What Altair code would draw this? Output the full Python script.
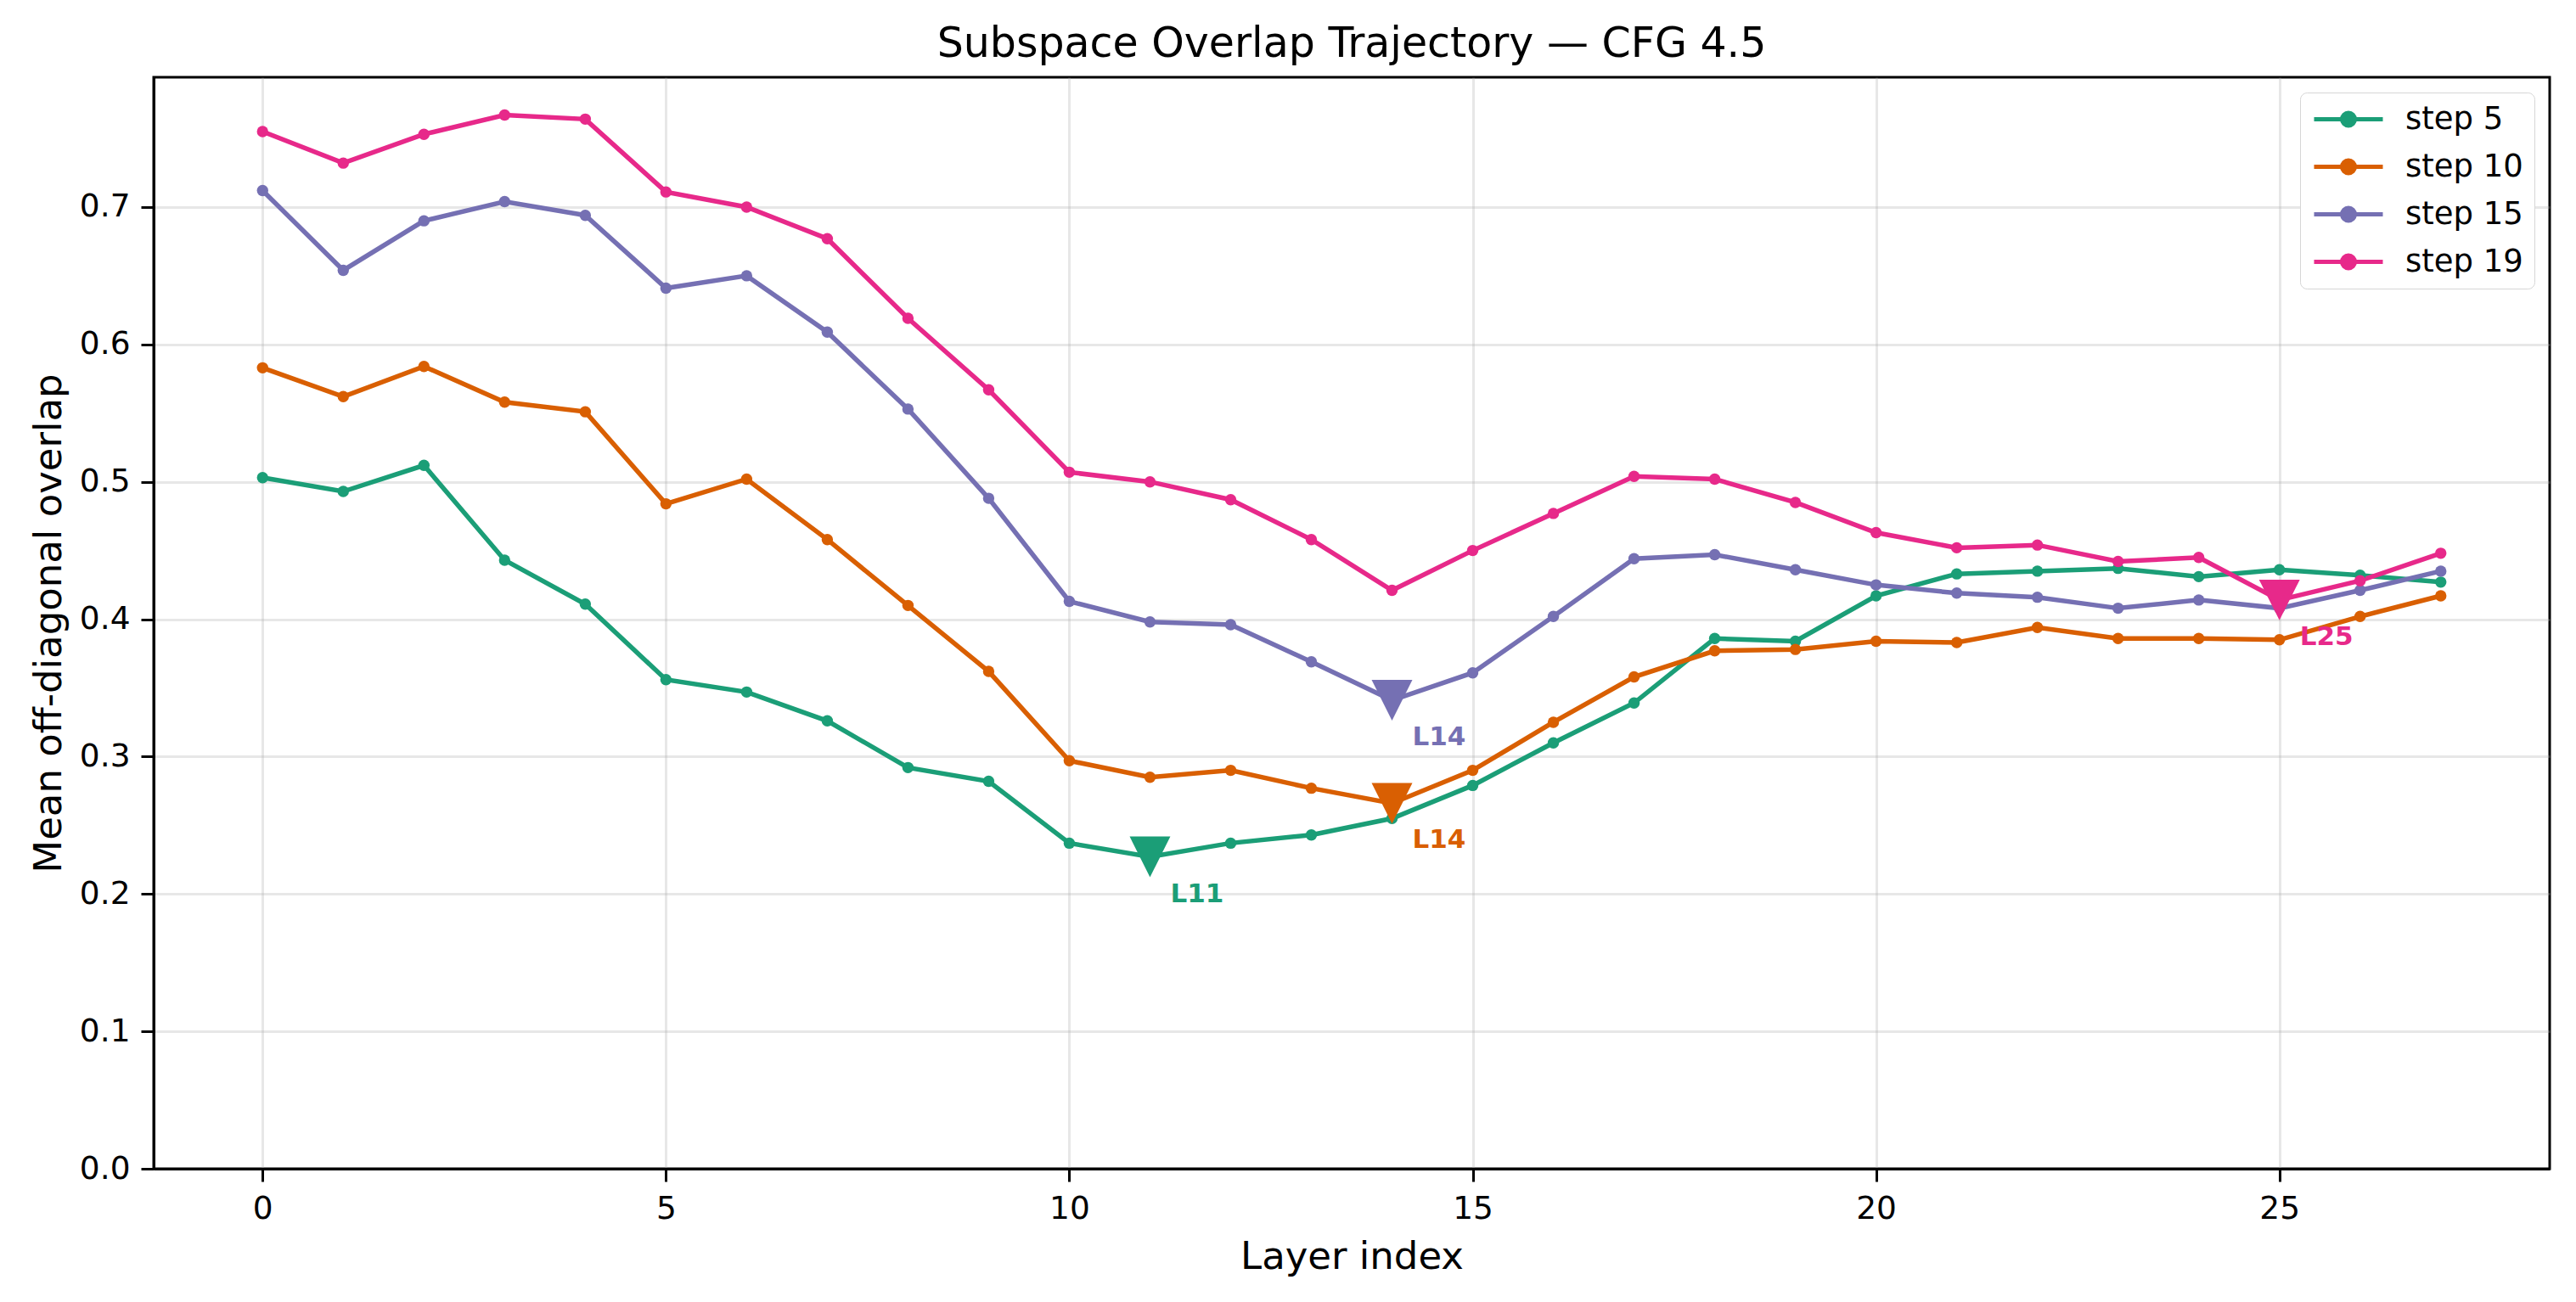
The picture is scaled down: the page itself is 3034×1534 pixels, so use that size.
import altair as alt
import pandas as pd

# ---------------- data ----------------
layers = list(range(28))
series_names = ["step 5", "step 10", "step 15", "step 19"]
series_colors = ["#1b9e77", "#d95f02", "#7570b3", "#e7298a"]

step5 = [0.503, 0.493, 0.512, 0.443, 0.411, 0.356, 0.347, 0.326, 0.292, 0.282,
         0.237, 0.227, 0.237, 0.243, 0.255, 0.279, 0.310, 0.339, 0.386, 0.384,
         0.417, 0.433, 0.435, 0.437, 0.431, 0.436, 0.432, 0.427]
step10 = [0.583, 0.562, 0.584, 0.558, 0.551, 0.484, 0.502, 0.458, 0.410, 0.362,
          0.297, 0.285, 0.290, 0.277, 0.266, 0.290, 0.325, 0.358, 0.377, 0.378,
          0.384, 0.383, 0.394, 0.386, 0.386, 0.385, 0.402, 0.417]
step15 = [0.712, 0.654, 0.690, 0.704, 0.694, 0.641, 0.650, 0.609, 0.553, 0.488,
          0.413, 0.398, 0.396, 0.369, 0.341, 0.361, 0.402, 0.444, 0.447, 0.436,
          0.425, 0.419, 0.416, 0.408, 0.414, 0.408, 0.421, 0.435]
step19 = [0.755, 0.732, 0.753, 0.767, 0.764, 0.711, 0.700, 0.677, 0.619, 0.567,
          0.507, 0.500, 0.487, 0.458, 0.421, 0.450, 0.477, 0.504, 0.502, 0.485,
          0.463, 0.452, 0.454, 0.442, 0.445, 0.414, 0.428, 0.448]

x_ticks = [0, 5, 10, 15, 20, 25]
y_ticks = [0.0, 0.1, 0.2, 0.3, 0.4, 0.5, 0.6, 0.7]

title_text = "Subspace Overlap Trajectory \u2014 CFG 4.5"
x_title = "Layer index"
y_title = "Mean off-diagonal overlap"

# ---------------- tables ----------------
rows = []
for name, vals in zip(series_names, [step5, step10, step15, step19]):
    for l, v in zip(layers, vals):
        rows.append({"series": name, "layer": l, "overlap": v})
df = pd.DataFrame(rows)

mins = df.loc[df.groupby("series", sort=False)["overlap"].idxmin()].copy()
mins["label"] = "L" + mins["layer"].astype(str)

FONT = "DejaVu Sans"

color_scale = alt.Scale(domain=series_names, range=series_colors)
legend = alt.Legend(
    title=None,
    orient="top-right",
    offset=18,
    padding=13,
    rowPadding=18,
    labelFontSize=37,
    labelFont=FONT,
    labelColor="black",
    labelOffset=74,
    symbolType="M-1,0L4.4,0M2.2,0A0.5,0.5,0,1,1,1.2,0A0.5,0.5,0,1,1,2.2,0Z",
    symbolSize=900,
    symbolStrokeWidth=5,
    symbolOpacity=1,
    strokeColor="#d6d6d6",
    fillColor="white",
    cornerRadius=8,
)

x_enc = alt.X(
    "layer:Q",
    scale=alt.Scale(domain=[-1.35, 28.35], nice=False, zero=False),
    axis=alt.Axis(values=x_ticks, format="d", title=x_title, titlePadding=16),
)
y_enc = alt.Y(
    "overlap:Q",
    scale=alt.Scale(domain=[0, 0.7945], nice=False, zero=False),
    axis=alt.Axis(values=y_ticks, format=".1f", title=y_title, titlePadding=13),
)

base = alt.Chart(df)

lines = base.mark_line(strokeWidth=5.5, opacity=1).encode(
    x=x_enc, y=y_enc,
    color=alt.Color("series:N", scale=color_scale, legend=legend, sort=series_names),
)

dots = base.mark_point(filled=True, size=180, opacity=1).encode(
    x="layer:Q", y="overlap:Q",
    color=alt.Color("series:N", scale=color_scale, legend=legend, sort=series_names),
)

tri = alt.Chart(mins).mark_point(
    shape="M-1,-1L1,-1L0,1Z", filled=True, size=2300, opacity=1
).encode(
    x="layer:Q", y="overlap:Q",
    color=alt.Color("series:N", scale=color_scale, legend=None),
)

labels = alt.Chart(mins).mark_text(
    align="left", baseline="alphabetic", dx=24, dy=53,
    fontSize=31, fontWeight="bold", font=FONT,
).encode(
    x="layer:Q", y="overlap:Q", text="label:N",
    color=alt.Color("series:N", scale=color_scale, legend=None),
)

chart = alt.layer(lines, dots, tri, labels).properties(
    width=2822,
    height=1286,
    background="white",
    title=alt.TitleParams(title_text, fontSize=49, font=FONT, fontWeight="normal",
                          color="black", anchor="middle", frame="group", offset=14),
    autosize=alt.AutoSizeParams(type="none"),
    padding={"left": 173, "top": 83, "right": 15, "bottom": 140},
).configure_view(
    stroke="black", strokeWidth=3,
).configure_axis(
    domainColor="black", domainWidth=3,
    tickColor="black", tickWidth=3, tickSize=15,
    labelFont=FONT, labelFontSize=37.5, labelColor="black", labelPadding=13,
    titleFont=FONT, titleFontSize=45, titleFontWeight="normal", titleColor="black",
    grid=True, gridColor="#b0b0b0", gridOpacity=0.3, gridWidth=3,
)

chart.save("out.html", embed_options={"renderer": "svg", "actions": False})
